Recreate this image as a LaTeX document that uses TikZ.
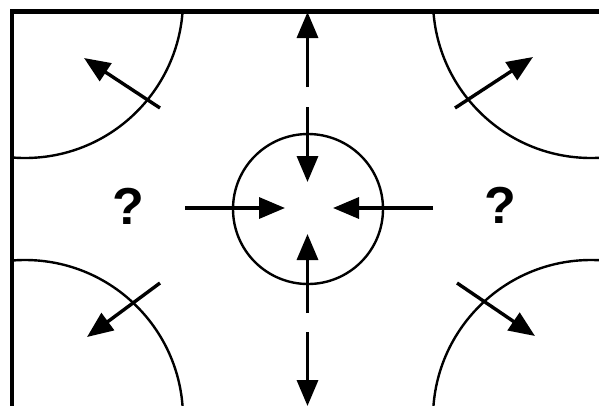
\documentclass[tikz,border=0pt]{standalone}
\usepackage{fontspec}
\setmainfont{Liberation Sans}
\usetikzlibrary{arrows.meta}
\begin{document}
\begin{tikzpicture}[x=1pt,y=-1pt,
  arcline/.style={line width=2.4pt},
  frameline/.style={line width=4.5pt},
  arr/.style={line width=3.4pt,-{Triangle[length=26pt,width=21pt]}},
  qm/.style={font=\fontsize{52}{52}\selectfont\bfseries,inner sep=0pt}]
\useasboundingbox (0,0) rectangle (599,405);
\clip (0,0) rectangle (599,405);
\draw[frameline] (12,11.5) rectangle (604,410);
\begin{scope}
  \clip (12,11.5) rectangle (604,410);
  \draw[arcline] (25,0) circle[radius=158pt];
  \draw[arcline] (591,0) circle[radius=158pt];
  \draw[arcline] (25,418) circle[radius=158pt];
  \draw[arcline] (591,418) circle[radius=158pt];
\end{scope}
\node[draw,circle,line width=2.4pt,minimum size=150pt,inner sep=0pt] (c) at (308,209) {};
% vertical arrows
\coordinate (tu0) at (307.5,87);  \coordinate (tu1) at (307.5,12);
\coordinate (td0) at (307.5,107); \coordinate (td1) at (307.5,182);
\coordinate (bu0) at (307.5,313); \coordinate (bu1) at (307.5,234);
\coordinate (bd0) at (307.5,332); \coordinate (bd1) at (307.5,406);
% horizontal arrows
\coordinate (l0) at (185,208); \coordinate (l1) at (285,208);
\coordinate (r0) at (433,208); \coordinate (r1) at (333,208);
% corner arrows
\coordinate (tl0) at (160,108); \coordinate (tl1) at (84,58);
\coordinate (tr0) at (455,108); \coordinate (tr1) at (533,57);
\coordinate (bl0) at (160,283); \coordinate (bl1) at (87,337);
\coordinate (br0) at (457,283); \coordinate (br1) at (535,336);
\foreach \a in {tu,td,bu,bd,l,r,tl,tr,bl,br}
  \draw[arr] (\a0) -- (\a1);
\node[qm] (q1) at (128,206) {?};
\node[qm] (q2) at (500,205) {?};
\end{tikzpicture}
\end{document}
